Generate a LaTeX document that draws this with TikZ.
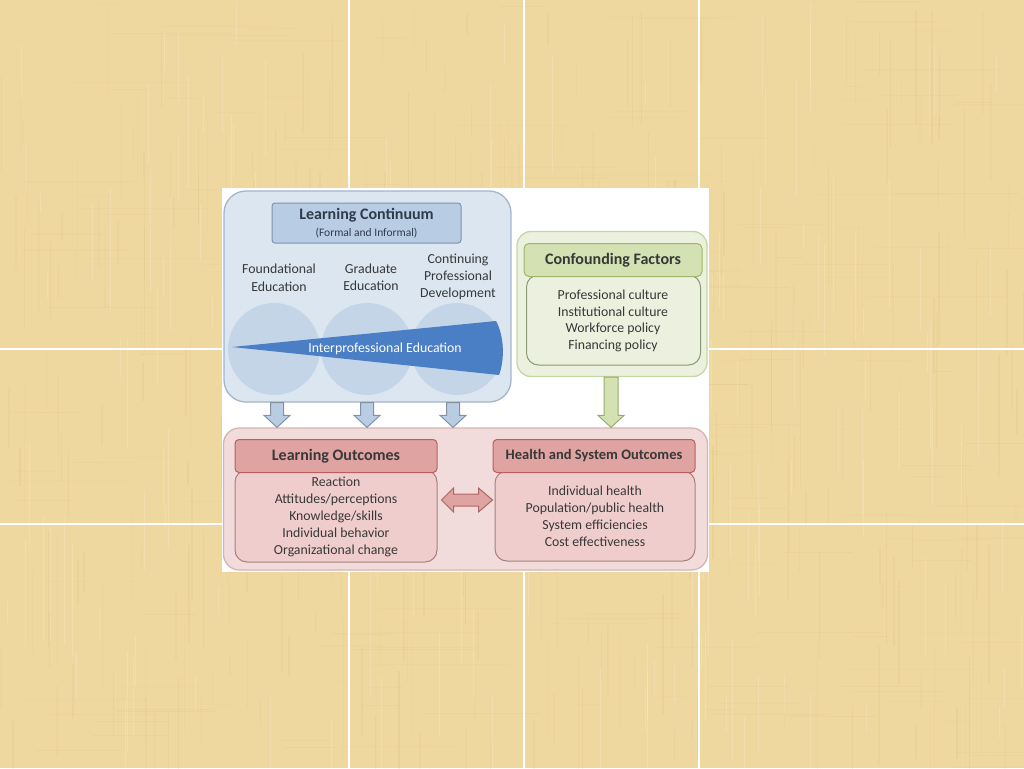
\documentclass[tikz,border=0pt]{standalone}
\usepackage{fontspec}
\setmainfont{Carlito}
\usetikzlibrary{calc}
\definecolor{bg}{HTML}{EFD8A0}
\definecolor{texd}{HTML}{C9A65E}
\definecolor{texl}{HTML}{FFF6DC}
\definecolor{blfill}{HTML}{DCE6F1}
\definecolor{bldraw}{HTML}{A3B6CC}
\definecolor{bltitle}{HTML}{B8CCE4}
\definecolor{bltitled}{HTML}{7F93AE}
\definecolor{blcirc}{HTML}{C5D5E8}
\definecolor{wedge}{HTML}{4A7EC5}
\definecolor{grfill}{HTML}{EBF1DE}
\definecolor{grdraw}{HTML}{C6D6A4}
\definecolor{grhead}{HTML}{D3E1B3}
\definecolor{grheadd}{HTML}{9EB66A}
\definecolor{grbodyd}{HTML}{8A9A72}
\definecolor{pkfill}{HTML}{F2DCDB}
\definecolor{pkdraw}{HTML}{D6B4B3}
\definecolor{pkhead}{HTML}{DFA3A2}
\definecolor{pkheadd}{HTML}{B9605D}
\definecolor{pkbody}{HTML}{EFCDCC}
\definecolor{pkbodyd}{HTML}{A8807F}
\definecolor{txt}{HTML}{383838}
\definecolor{ttl}{HTML}{2F3B4C}
\newcommand\vblock[5]{%
  \draw[#1] let \p1=(#2), \p2=(#3) in
   (\x1-#4,\y1) -- (\x1+#4,\y1) -- (\x1+#4,\y2+12pt) -- (\x1+#5,\y2+12pt)
   -- (\x1,\y2) -- (\x1-#5,\y2+12pt) -- (\x1-#4,\y2+12pt) -- cycle;}
\tikzset{
  outerbox/.style={rounded corners=#1, line width=1.3pt},
  body/.style={font=\fontsize{13.8}{17}\selectfont, text=txt, align=center},
  head/.style={font=\bfseries\fontsize{16}{18}\selectfont, text=txt},
  bluearrow/.style={fill=bltitle, draw=bldraw!80!black, line width=1pt},
  greenarrow/.style={fill=grhead, draw=grheadd!80!gray, line width=1pt},
  pinkarrow/.style={fill=pkhead, draw=pkheadd!80!gray, line width=1pt},
}
\begin{document}
\begin{tikzpicture}[x=1pt,y=-1pt]
\useasboundingbox (0,0) rectangle (1024,768);
% background
\fill[bg] (0,0) rectangle (1024,768);
\pgfmathsetseed{11}
\foreach \i in {1,...,320}{
  \pgfmathsetmacro\xx{rnd*1024}
  \pgfmathsetmacro\yy{rnd*740}
  \pgfmathsetmacro\ll{20+rnd*120}
  \pgfmathsetmacro\op{0.04+0.10*rnd}
  \pgfmathsetmacro\ww{0.6+1.6*rnd}
  \draw[texd, line width=\ww pt, opacity=\op] (\xx,\yy) -- (\xx,\yy+\ll);
}
\foreach \i in {1,...,200}{
  \pgfmathsetmacro\xx{rnd*980}
  \pgfmathsetmacro\yy{rnd*768}
  \pgfmathsetmacro\ll{20+rnd*120}
  \pgfmathsetmacro\op{0.04+0.08*rnd}
  \draw[texd, line width=0.8pt, opacity=\op] (\xx,\yy) -- (\xx+\ll,\yy);
}
\foreach \i in {1,...,160}{
  \pgfmathsetmacro\xx{rnd*1024}
  \pgfmathsetmacro\yy{rnd*740}
  \pgfmathsetmacro\ll{20+rnd*120}
  \draw[texl, line width=1pt, opacity=0.22] (\xx,\yy) -- (\xx,\yy+\ll);
}
% white grid lines
\foreach \gx in {349,524,699}{\draw[white, line width=1.2pt] (\gx,0) -- (\gx,768);}
\foreach \gy in {349,524}{\draw[white, line width=1.2pt] (0,\gy) -- (1024,\gy);}
% diagram image background
\fill[white] (222,188) rectangle (709,572);

% ---- blue learning continuum ----
\node[outerbox=22pt, fill=blfill, draw=bldraw, minimum width=287pt, minimum height=211pt] (lcbox) at (367.5,296.5) {};
\fill[blcirc] (274,349) circle (46);
\fill[blcirc] (367,349) circle (46);
\fill[blcirc] (457,349) circle (46);
\node[rounded corners=3pt, fill=bltitle, draw=bltitled, line width=1pt, minimum width=189pt, minimum height=40pt] (lct) at (366.5,223) {};
\node[font=\bfseries\fontsize{16}{18}\selectfont, text=ttl] (lctt) at (366.5,215.5) {Learning Continuum};
\node[font=\fontsize{11.5}{13}\selectfont, text=ttl] (lcts) at (366.5,233.5) {(Formal and Informal)};
\node[body, font=\fontsize{13.8}{18}\selectfont] (fe) at (279,278) {Foundational\\Education};
\node[body, font=\fontsize{13.8}{17}\selectfont] (ge) at (371,277) {Graduate\\Education};
\node[body, font=\fontsize{13.8}{17}\selectfont] (cpd) at (458,277) {Continuing\\Professional\\Development};
\fill[wedge] (232,347) -- (496,321) .. controls (504,335) and (505,360) .. (499,375) -- cycle;
\node[font=\fontsize{13.8}{15}\selectfont, text=white] (ipe) at (385,349) {Interprofessional Education};

% ---- green confounding factors ----
\node[outerbox=14pt, fill=grfill, draw=grdraw, minimum width=190pt, minimum height=145pt] (cfbox) at (612,304) {};
\node[rounded corners=12pt, fill=grfill, draw=grbodyd, line width=1pt, minimum width=174pt, minimum height=90pt] (cfb) at (613.5,320) {};
\node[rounded corners=5pt, fill=grhead, draw=grheadd, line width=1pt, minimum width=178pt, minimum height=33pt] (cfh) at (613,260) {};
\node[head] (cfht) at (613,260) {Confounding Factors};
\node[body, font=\fontsize{13.8}{16.7}\selectfont] (cft) at (613,321) {Professional culture\\Institutional culture\\Workforce policy\\Financing policy};

% ---- pink outcomes ----
\node[outerbox=16pt, fill=pkfill, draw=pkdraw, minimum width=484pt, minimum height=142pt] (outbox) at (465.5,499) {};
\node[rounded corners=12pt, fill=pkbody, draw=pkbodyd, line width=1pt, minimum width=202pt, minimum height=92pt] (lob) at (336,516) {};
\node[rounded corners=4pt, fill=pkhead, draw=pkheadd, line width=1pt, minimum width=202pt, minimum height=33pt] (loh) at (336,456) {};
\node[head] (loht) at (336,456) {Learning Outcomes};
\node[body, font=\fontsize{13.8}{17.2}\selectfont] (lot) at (336,517) {Reaction\\Attitudes/perceptions\\Knowledge/skills\\Individual behavior\\Organizational change};
\node[rounded corners=12pt, fill=pkbody, draw=pkbodyd, line width=1pt, minimum width=200pt, minimum height=90pt] (hsb) at (595,516) {};
\node[rounded corners=4pt, fill=pkhead, draw=pkheadd, line width=1pt, minimum width=202pt, minimum height=33pt] (hsh) at (594,456) {};
\node[head, font=\bfseries\fontsize{14.5}{16}\selectfont] (hsht) at (594,456) {Health and System Outcomes};
\node[body, font=\fontsize{13.8}{17}\selectfont] (hst) at (595,516) {Individual health\\Population/public health\\System efficiencies\\Cost effectiveness};

% ---- arrows ----
\coordinate (a1s) at (lcbox.south -| 277,0);
\coordinate (a1e) at (outbox.north -| 277,0);
\coordinate (a2s) at (lcbox.south -| 367,0);
\coordinate (a2e) at (outbox.north -| 367,0);
\coordinate (a3s) at (lcbox.south -| 453,0);
\coordinate (a3e) at (outbox.north -| 453,0);
\vblock{bluearrow}{a1s}{a1e}{6.5pt}{13pt}
\vblock{bluearrow}{a2s}{a2e}{6.5pt}{13pt}
\vblock{bluearrow}{a3s}{a3e}{6.5pt}{13pt}
\coordinate (gs) at (cfbox.south -| 611,0);
\coordinate (ge2) at (outbox.north -| 611,0);
\vblock{greenarrow}{gs}{ge2}{7pt}{13pt}
% double arrow
\draw[pinkarrow] let \p1=(lob.east), \p2=(hsb.west) in
  (\x1+4pt,-500pt) -- (\x1+16pt,-488pt) -- (\x1+16pt,-494pt) -- (\x2-16pt,-494pt)
  -- (\x2-16pt,-488pt) -- (\x2-2pt,-500pt) -- (\x2-16pt,-512pt) -- (\x2-16pt,-506pt)
  -- (\x1+16pt,-506pt) -- (\x1+16pt,-512pt) -- cycle;
\end{tikzpicture}
\end{document}
